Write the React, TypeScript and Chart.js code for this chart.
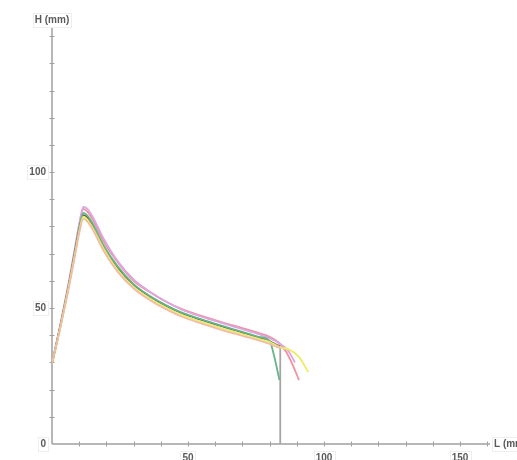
import React, { useEffect, useRef } from "react";
import { Chart, registerables } from "chart.js";

Chart.register(...registerables);

// Shared lengths (L, mm) for the main body of every curve
const lengthX = [0, 3, 6, 8.5, 10, 11.5, 13, 15, 19, 24, 30, 36, 42, 48, 55, 62, 70, 76, 80];

// Heights (H, mm) per series along lengthX
const violetH = [29.5, 43.5, 58.5, 72.5, 81, 87.2, 86.5, 83.5, 75.5, 67.5, 60.5, 56, 52.3, 49.3, 46.8, 44.6, 42.2, 40.4, 38.9];
const pinkH = [29.5, 43.5, 58.5, 72, 80.5, 86.5, 85.5, 82.5, 74.5, 67, 60, 55.8, 52.3, 49.5, 47.1, 44.9, 42.6, 40.8, 39.4];
const greenH = [29.5, 43, 57.5, 71, 79.5, 85, 84, 81, 73, 65.5, 58.8, 54.4, 51, 48.2, 45.8, 43.6, 41.2, 39.4, 37.9];
const darkH = [29.5, 43, 57.5, 71, 79, 84.2, 83.2, 80.3, 72.5, 65, 58.5, 54.2, 50.8, 48, 45.6, 43.4, 41, 39.2, 37.8];
const yellowH = [29.5, 42.5, 57, 70, 78, 83.6, 82.5, 79.5, 71.8, 64.2, 57.8, 53.5, 50.1, 47.3, 44.9, 42.7, 40.4, 38.7, 37.5];
const salmonH = [29.5, 42.5, 56.5, 69.5, 77.5, 82.8, 81.8, 78.8, 71, 63.5, 57.2, 52.9, 49.5, 46.7, 44.3, 42.1, 39.8, 38.1, 36.8];

// Tail points (L, H) after lengthX ends
const violetTailX = [84, 87, 89.3];
const violetTailH = [36.8, 34, 30];
const pinkTailX = [83, 86, 88.5, 90.8];
const pinkTailH = [37.5, 34, 29, 23.5];
const greenTailX = [81.5, 83.6];
const greenTailH = [33, 23.5];
const darkTailX = [83.8];
const darkTailH = [35.8];
const yellowTailX = [84, 87, 90.6, 94.2];
const yellowTailH = [35.5, 34.8, 32.2, 26.5];
const salmonTailX = [84];
const salmonTailH = [35.2];

// Vertical cut line
const cutX = [83.9, 83.9];
const cutH = [35.8, 0];

// Axes
const xMax = 161;
const yMax = 153;
const xTickLabels = [50, 100, 150];
const yTickLabels = [0, 50, 100];
const minorStep = 10;
const xTitle = "L (mm)";
const yTitle = "H (mm)";

function pts(xs: number[], ys: number[], tx: number[] = [], ty: number[] = []) {
  const out = xs.map((x, i) => ({ x, y: ys[i] }));
  tx.forEach((x, i) => out.push({ x, y: ty[i] }));
  return out;
}

const axisPlugin = {
  id: "mathAxes",
  beforeDatasetsDraw(chart: any) {
    const { ctx, scales } = chart;
    const xs = scales.x;
    const ys = scales.y;
    const x0 = xs.getPixelForValue(0);
    const y0 = ys.getPixelForValue(0);
    const xEnd = xs.getPixelForValue(xMax);
    const yEnd = ys.getPixelForValue(yMax);
    ctx.save();
    ctx.strokeStyle = "#a0a0a0";
    ctx.lineWidth = 1.5;
    ctx.beginPath();
    ctx.moveTo(x0, y0);
    ctx.lineTo(xEnd, y0);
    ctx.moveTo(x0, y0);
    ctx.lineTo(x0, yEnd);
    ctx.stroke();
    ctx.lineWidth = 1;
    ctx.beginPath();
    for (let v = minorStep; v <= xMax; v += minorStep) {
      const p = Math.round(xs.getPixelForValue(v)) + 0.5;
      ctx.moveTo(p, y0 - 2.5);
      ctx.lineTo(p, y0 + 2.5);
    }
    for (let v = minorStep; v <= yMax; v += minorStep) {
      const p = Math.round(ys.getPixelForValue(v)) + 0.5;
      ctx.moveTo(x0 - 2.5, p);
      ctx.lineTo(x0 + 2.5, p);
    }
    ctx.stroke();

    ctx.font = "bold 10px 'Liberation Sans', Arial, sans-serif";
    ctx.textBaseline = "middle";
    const box = (text: string, cx: number, cy: number, align: string) => {
      const w = ctx.measureText(text).width;
      let left = cx - w / 2;
      if (align === "right") left = cx - w;
      if (align === "left") left = cx;
      ctx.fillStyle = "#ffffff";
      ctx.fillRect(left - 2, cy - 7, w + 4, 14);
      ctx.strokeStyle = "#eeeeee";
      ctx.lineWidth = 1;
      ctx.strokeRect(Math.round(left - 2) + 0.5, Math.round(cy - 7) + 0.5, Math.round(w + 4), 14);
      ctx.fillStyle = "#5a5a5a";
      ctx.textAlign = "left";
      ctx.fillText(text, left, cy + 0.5);
    };
    yTickLabels.forEach((v) => box(String(v), x0 - 6, ys.getPixelForValue(v), "right"));
    xTickLabels.forEach((v) => box(String(v), xs.getPixelForValue(v), y0 + 14, "center"));
    box(yTitle, x0, yEnd - 8, "center");
    box(xTitle, xEnd + 4, y0, "left");
    ctx.restore();
  },
};

export default function App() {
  const ref = useRef<HTMLCanvasElement | null>(null);
  useEffect(() => {
    if (!ref.current) return;
    const line = (data: any[], color: string) => ({
      data,
      borderColor: color,
      backgroundColor: color,
      borderWidth: 1.8,
      pointRadius: 0,
      showLine: true,
      fill: false,
      cubicInterpolationMode: "monotone",
    });
    const chart = new Chart(ref.current, {
      type: "scatter",
      data: {
        datasets: [
          line(pts(lengthX, salmonH, salmonTailX, salmonTailH), "#f2bba6"),
          line(pts(lengthX, yellowH, yellowTailX, yellowTailH), "#ecec6a"),
          line(pts(lengthX, greenH, greenTailX, greenTailH), "#66b58a"),
          line(pts(lengthX, darkH, darkTailX, darkTailH), "#55554a"),
          line(pts(lengthX, violetH, violetTailX, violetTailH), "#dba6e3"),
          line(pts(lengthX, pinkH, pinkTailX, pinkTailH), "#f0939f"),
          { ...line(pts(cutX, cutH), "#a6a6a6"), cubicInterpolationMode: "default", tension: 0 },
        ] as any,
      },
      options: {
        animation: false,
        responsive: false,
        maintainAspectRatio: false,
        layout: { padding: { left: 52, top: 28, right: 27, bottom: 16 } },
        plugins: { legend: { display: false }, tooltip: { enabled: false } },
        scales: {
          x: { type: "linear", min: 0, max: xMax, display: false },
          y: { type: "linear", min: 0, max: yMax, display: false },
        },
      } as any,
      plugins: [axisPlugin],
    });
    return () => chart.destroy();
  }, []);
  return (
    <div style={{ position: "fixed", left: 0, top: 0, width: 517, height: 460, background: "#fff" }}>
      <canvas ref={ref} width={517} height={460} style={{ width: 517, height: 460, display: "block" }} />
    </div>
  );
}
